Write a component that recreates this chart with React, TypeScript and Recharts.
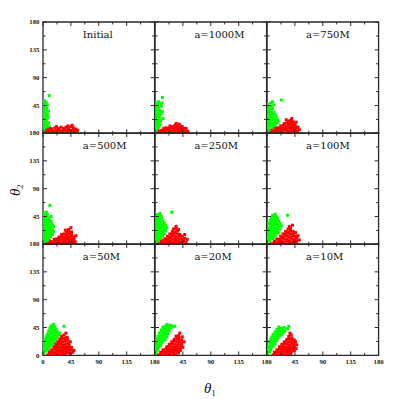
import React from 'react';
import { ScatterChart, Scatter, XAxis, YAxis, ReferenceArea } from 'recharts';

type Pt = [number, number];

const TITLES = ['Initial', 'a=1000M', 'a=750M', 'a=500M', 'a=250M', 'a=100M', 'a=50M', 'a=20M', 'a=10M'];
const TICKS = [0, 22.5, 45, 67.5, 90, 112.5, 135, 157.5, 180];

// [theta1, theta2] in degrees
const greenInitial: Pt[] = [[1,3],[4,5],[2,8],[6,9],[1,12],[4,14],[7,13],[2,17],[5,19],[1,21],[3,24],[6,23],[2,27],[5,29],[1,31],[4,33],[7,31],[2,36],[5,38],[1,40],[3,42],[6,41],[2,45],[4,47],[1,49],[3,51],[5,50],[2,53],[9,17],[10,11],[8,26],[9,36],[10,61],[7,46]];
const redInitial: Pt[] = [[4,1],[8,2],[12,1],[16,3],[20,1],[24,2],[28,1],[32,3],[36,1],[40,2],[44,1],[48,3],[52,2],[6,5],[10,4],[14,6],[18,4],[22,6],[26,5],[30,4],[34,6],[38,5],[42,6],[46,5],[50,6],[54,4],[13,8],[19,9],[25,8],[29,10],[33,8],[37,10],[41,9],[45,11],[49,9],[53,7],[9,7],[22,11],[40,12],[56,5],[47,13]];

const green1000: Pt[] = [[1,4],[4,6],[2,9],[6,10],[1,13],[4,15],[8,14],[2,18],[6,19],[3,22],[7,24],[1,25],[4,28],[8,29],[2,31],[5,33],[10,32],[1,36],[4,38],[8,37],[12,35],[2,41],[6,42],[10,44],[1,45],[4,47],[8,48],[2,50],[6,51],[11,49],[12,58],[13,24],[9,20]];
const red1000: Pt[] = [[5,1],[9,2],[13,1],[17,2],[21,1],[25,2],[29,1],[33,2],[37,1],[41,2],[45,1],[49,2],[7,4],[11,5],[15,4],[19,6],[23,5],[27,4],[31,6],[35,5],[39,4],[43,6],[47,5],[51,4],[14,8],[18,9],[22,8],[26,9],[30,8],[34,9],[38,8],[42,9],[46,8],[24,12],[28,11],[32,13],[36,12],[40,13],[44,11],[34,16],[39,15],[50,8],[53,3]];

const green750: Pt[] = [[1,3],[4,5],[2,8],[7,7],[10,9],[1,12],[5,12],[9,13],[13,12],[3,16],[7,17],[11,16],[15,17],[1,20],[5,21],[9,22],[13,21],[17,22],[3,25],[7,26],[11,25],[15,27],[1,29],[5,30],[9,31],[13,30],[3,34],[7,35],[11,34],[1,38],[5,39],[9,40],[3,43],[7,44],[11,46],[2,47],[6,49],[9,51],[23,54],[18,18]];
const red750: Pt[] = [[5,1],[9,2],[13,1],[17,2],[21,1],[25,2],[29,1],[33,2],[37,1],[41,2],[45,1],[49,2],[8,5],[12,4],[16,6],[20,5],[24,4],[28,6],[32,5],[36,4],[40,6],[44,5],[48,4],[52,6],[14,8],[18,9],[22,8],[26,9],[30,8],[34,9],[38,8],[42,9],[46,8],[50,10],[22,12],[26,13],[30,12],[34,13],[38,12],[42,13],[46,12],[28,16],[32,17],[36,16],[40,17],[44,15],[34,20],[38,21],[42,19],[40,24],[47,18],[31,22]];

const green500: Pt[] = [[1,3],[5,4],[2,7],[6,8],[10,7],[1,11],[4,12],[8,11],[12,12],[3,15],[7,16],[11,15],[15,16],[1,19],[5,20],[9,19],[13,20],[17,21],[3,23],[7,24],[11,23],[15,24],[1,27],[5,28],[9,27],[13,28],[17,29],[3,31],[7,32],[11,31],[15,33],[1,35],[5,36],[9,35],[13,37],[3,39],[7,40],[11,39],[1,43],[5,44],[9,43],[13,45],[3,47],[7,48],[2,51],[6,52],[11,63]];
const red500: Pt[] = [[6,1],[10,2],[14,1],[18,2],[22,1],[26,2],[30,1],[34,2],[38,1],[42,2],[46,1],[50,2],[12,5],[16,4],[20,6],[24,5],[28,4],[32,6],[36,5],[40,4],[44,6],[48,5],[52,4],[18,8],[22,9],[26,8],[30,9],[34,8],[38,9],[42,8],[46,9],[50,8],[26,12],[30,13],[34,12],[38,13],[42,12],[46,13],[50,12],[30,16],[34,17],[38,16],[42,17],[46,16],[38,20],[42,21],[46,20],[41,24],[45,27],[53,14],[36,23]];

const green250: Pt[] = [[1,3],[5,5],[2,8],[6,9],[10,8],[1,12],[4,13],[8,12],[12,13],[3,16],[7,17],[11,16],[15,17],[1,20],[5,21],[9,20],[13,21],[17,22],[3,24],[7,25],[11,24],[15,25],[19,27],[1,28],[5,29],[9,28],[13,29],[17,31],[3,32],[7,33],[11,32],[15,34],[1,36],[5,37],[9,36],[13,38],[3,40],[7,41],[11,42],[2,44],[6,45],[10,46],[4,48],[8,50],[27,52]];
const red250: Pt[] = [[6,1],[10,2],[14,1],[18,2],[22,1],[26,2],[30,1],[34,2],[38,1],[42,2],[46,1],[50,3],[10,5],[14,6],[18,4],[22,6],[26,5],[30,4],[34,6],[38,5],[42,4],[46,6],[16,9],[20,8],[24,10],[28,9],[32,8],[36,10],[40,9],[44,8],[48,10],[20,13],[24,12],[28,14],[32,13],[36,12],[40,14],[44,13],[24,17],[28,16],[32,18],[36,17],[40,16],[28,21],[32,20],[36,22],[30,25],[34,26],[38,24],[34,29],[48,16],[52,8]];

const green100: Pt[] = [[1,3],[4,6],[2,9],[6,10],[10,9],[1,13],[5,14],[9,13],[13,14],[3,17],[7,18],[11,17],[15,18],[19,19],[1,21],[5,22],[9,21],[13,22],[17,23],[21,25],[3,26],[7,27],[11,26],[15,27],[19,28],[23,30],[5,30],[9,31],[13,31],[17,32],[21,34],[3,34],[7,35],[11,35],[15,36],[19,38],[5,39],[9,39],[13,40],[17,42],[7,43],[11,44],[15,45],[9,47],[13,49],[33,47]];
const red100: Pt[] = [[7,1],[11,2],[15,1],[19,2],[23,1],[27,2],[31,1],[35,2],[39,1],[43,2],[47,1],[12,5],[16,4],[20,6],[24,5],[28,4],[32,6],[36,5],[40,4],[44,6],[48,5],[16,9],[20,8],[24,10],[28,9],[32,8],[36,10],[40,9],[44,8],[48,10],[22,13],[26,12],[30,14],[34,13],[38,12],[42,14],[46,13],[26,17],[30,16],[34,18],[38,17],[42,16],[46,19],[30,21],[34,20],[38,22],[42,21],[34,25],[38,26],[36,29],[41,31],[52,7],[50,14]];

const green50: Pt[] = [[1,4],[4,7],[2,10],[6,11],[9,9],[1,14],[5,15],[9,14],[13,15],[3,18],[7,19],[11,18],[15,19],[19,20],[1,22],[5,23],[9,22],[13,23],[17,24],[21,25],[3,26],[7,27],[11,26],[15,27],[19,28],[23,29],[5,30],[9,31],[13,30],[17,32],[21,33],[25,34],[7,34],[11,35],[15,36],[19,37],[23,38],[9,39],[13,40],[17,41],[21,42],[11,44],[15,45],[19,46],[13,48],[17,50],[27,36],[34,47],[29,30]];
const red50: Pt[] = [[8,1],[12,2],[16,1],[20,3],[24,2],[28,1],[32,3],[36,2],[40,4],[44,3],[48,5],[10,5],[14,6],[18,5],[22,7],[26,6],[30,5],[34,7],[38,6],[42,8],[46,9],[50,8],[14,9],[18,10],[22,11],[26,10],[30,9],[34,11],[38,10],[42,12],[46,13],[18,14],[22,15],[26,14],[30,13],[34,15],[38,14],[42,16],[21,18],[25,19],[29,18],[33,17],[37,19],[41,20],[24,22],[28,23],[32,22],[36,24],[40,25],[27,26],[31,27],[35,28],[39,29],[30,31],[34,33],[37,36],[44,22]];

const green20: Pt[] = [[1,3],[3,7],[1,11],[5,10],[2,15],[6,14],[9,16],[3,19],[7,18],[11,20],[5,23],[9,22],[13,24],[16,25],[3,27],[7,26],[11,28],[15,29],[19,30],[5,31],[9,32],[13,33],[17,34],[21,35],[7,36],[11,37],[15,38],[19,39],[23,40],[10,41],[14,42],[18,43],[22,44],[26,45],[13,46],[17,47],[21,48],[25,49],[29,47],[32,47],[19,50]];
const red20: Pt[] = [[6,1],[10,2],[14,1],[18,3],[22,2],[26,1],[30,3],[34,2],[38,4],[9,5],[13,6],[17,5],[21,7],[25,6],[29,5],[33,7],[37,6],[41,8],[13,9],[17,10],[21,11],[25,10],[29,9],[33,11],[37,10],[41,12],[45,13],[19,14],[23,15],[27,14],[31,13],[35,15],[39,14],[43,16],[23,18],[27,19],[31,18],[35,17],[39,19],[43,20],[27,22],[31,23],[35,22],[39,24],[43,25],[31,26],[35,27],[39,28],[34,31],[38,32],[40,36],[47,22],[44,30]];

const green10: Pt[] = [[1,3],[4,6],[2,10],[6,9],[3,14],[7,13],[10,15],[5,18],[9,17],[13,19],[4,22],[8,21],[12,23],[16,24],[6,26],[10,25],[14,27],[18,28],[8,30],[12,29],[16,31],[20,32],[24,33],[10,34],[14,33],[18,35],[22,36],[26,37],[13,38],[17,39],[21,40],[25,41],[29,40],[16,42],[20,43],[24,44],[28,45],[19,46],[33,43],[35,47]];
const red10: Pt[] = [[10,1],[14,2],[18,1],[22,3],[26,2],[30,1],[34,3],[38,2],[12,5],[16,6],[20,5],[24,7],[28,6],[32,5],[36,7],[40,6],[44,8],[16,9],[20,10],[24,11],[28,10],[32,9],[36,11],[40,10],[44,12],[20,14],[24,15],[28,14],[32,13],[36,15],[40,14],[44,16],[48,17],[24,18],[28,19],[32,18],[36,17],[40,19],[44,20],[28,22],[32,23],[36,22],[40,24],[44,25],[32,26],[36,27],[40,28],[35,31],[39,33],[37,36],[47,11],[46,22]];

const GREEN = [greenInitial, green1000, green750, green500, green250, green100, green50, green20, green10];
const RED = [redInitial, red1000, red750, red500, red250, red100, red50, red20, red10];

const GRID_X = 43.3;
const GRID_Y = 21.5;
const PW = 111.6;
const PH = 111.4;
const ML = 36;
const MR = 6;
const MT = 6;
const MB = 16;
const FRAME = '#2a2a2a';
const NUM_FONT = '"Liberation Serif", serif';

const toObj = (pts: Pt[]) => pts.map(([x, y]) => ({ x, y }));

const square = (color: string) => (props: any) => (
  <rect x={props.cx - 1.5} y={props.cy - 1.5} width={3} height={3} fill={color} />
);

const Panel = ({ idx }: { idx: number }) => {
  const row = Math.floor(idx / 3);
  const col = idx % 3;
  const top = MT;
  const bottom = MT + PH;
  const left = ML;
  const right = ML + PW;

  const XTick = (props: any) => {
    const { x, payload } = props;
    const v = payload.value;
    const major = v % 45 === 0;
    const len = major ? 4 : 2.5;
    // the 0 of the next panel sits under the 180 of the one before it
    const showLabel = row === 2 && major && !(v === 0 && col > 0);
    return (
      <g>
        <line x1={x} x2={x} y1={bottom} y2={bottom - len} stroke={FRAME} strokeWidth={1} />
        <line x1={x} x2={x} y1={top} y2={top + len} stroke={FRAME} strokeWidth={1} />
        {showLabel && (
          <text x={x} y={bottom + 8.8} textAnchor="middle" fontSize={6.8} fontWeight="bold" fontFamily={NUM_FONT} fill="#222">
            {v}
          </text>
        )}
      </g>
    );
  };

  const YTick = (props: any) => {
    const { y, payload } = props;
    const v = payload.value;
    const major = v % 45 === 0;
    const len = major ? 4 : 2.5;
    const showLabel = col === 0 && major && !(v === 0 && row < 2);
    return (
      <g>
        <line x1={left} x2={left + len} y1={y} y2={y} stroke={FRAME} strokeWidth={1} />
        <line x1={right} x2={right - len} y1={y} y2={y} stroke={FRAME} strokeWidth={1} />
        {showLabel && (
          <text x={left - 3.5} y={y + 2.4} textAnchor="end" fontSize={6.8} fontWeight="bold" fontFamily={NUM_FONT} fill="#222">
            {v}
          </text>
        )}
      </g>
    );
  };

  return (
    <div style={{ position: 'absolute', left: GRID_X + col * PW - ML, top: GRID_Y + row * PH - MT }}>
      <ScatterChart
        width={ML + PW + MR}
        height={MT + PH + MB}
        margin={{ top: MT, right: MR, bottom: 0, left: 0 }}
      >
        <XAxis type="number" dataKey="x" domain={[0, 180]} ticks={TICKS} interval={0} height={MB}
          tickLine={false} axisLine={false} tick={XTick} allowDataOverflow />
        <YAxis type="number" dataKey="y" domain={[0, 180]} ticks={TICKS} interval={0} width={ML}
          tickLine={false} axisLine={false} tick={YTick} allowDataOverflow />
        <ReferenceArea x1={0} x2={180} y1={0} y2={180} fill="none" fillOpacity={0} stroke={FRAME} strokeWidth={1.3} />
        <Scatter data={toObj(GREEN[idx])} fill="#00ff00" shape={square('#00ff00')} isAnimationActive={false} />
        <Scatter data={toObj(RED[idx])} fill="#ff0000" shape={square('#ff0000')} isAnimationActive={false} />
      </ScatterChart>
    </div>
  );
};

export default function App() {
  return (
    <div style={{ position: 'absolute', left: 0, top: 0, width: 399, height: 399, background: '#fff' }}>
      {TITLES.map((_, i) => (
        <Panel key={i} idx={i} />
      ))}
      <svg width={399} height={399} style={{ position: 'absolute', left: 0, top: 0, pointerEvents: 'none' }}>
        {TITLES.map((t, i) => (
          <text
            key={t}
            x={GRID_X + (i % 3) * PW + 39.5}
            y={GRID_Y + Math.floor(i / 3) * PH + 16}
            fontSize={10}
            fontFamily='"DejaVu Serif", serif'
            fill="#111"
          >
            {t}
          </text>
        ))}
        <text x={204} y={393} fontSize={15} fontStyle="italic" fontFamily='"Liberation Serif", serif' fill="#111">
          θ<tspan fontSize={8.5} fontStyle="normal" dy={2.5}>1</tspan>
        </text>
        <g transform="translate(20, 196) rotate(-90)">
          <text x={0} y={0} fontSize={15} fontStyle="italic" fontFamily='"Liberation Serif", serif' fill="#111">
            θ<tspan fontSize={8.5} fontStyle="normal" dy={2.5}>2</tspan>
          </text>
        </g>
      </svg>
    </div>
  );
}
